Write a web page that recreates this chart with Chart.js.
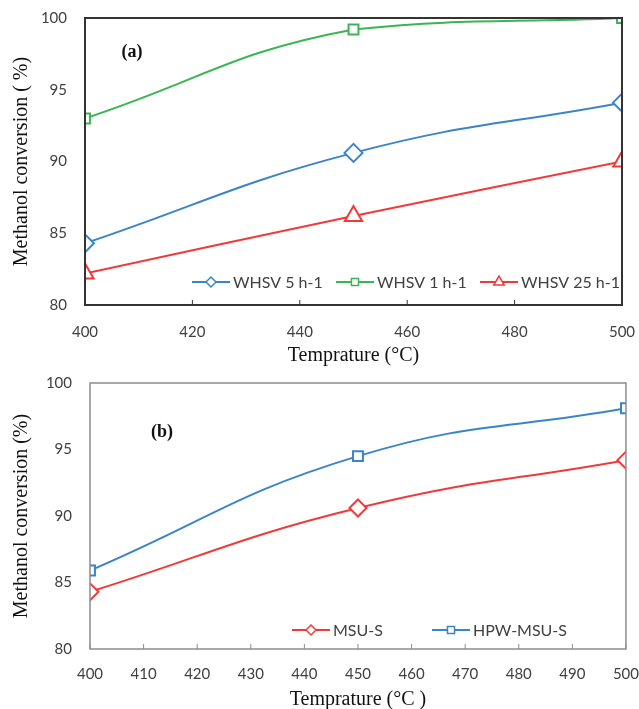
<!DOCTYPE html>
<html>
<head>
<meta charset="utf-8">
<script src="https://cdn.jsdelivr.net/npm/chart.js@4.4.1/dist/chart.umd.min.js"></script>
<style>
  html, body { margin: 0; padding: 0; background: #fff; }
  #wrap { position: relative; width: 639px; height: 709px; }
  #wrap canvas { position: absolute; left: 0; top: 0; }
</style>
</head>
<body>
<div id="wrap">
  <canvas id="panelA" width="639" height="709"></canvas>
  <canvas id="panelB" width="639" height="709"></canvas>
</div>
<script>
// Panel (a): methanol conversion at three space velocities
const temperaturesA = [400, 450, 500];
const whsv5 = [84.3, 90.6, 94.1];
const whsv1 = [93.0, 99.2, 100.0];
const whsv25 = [82.2, 86.2, 90.0];
const seriesNamesA = ['WHSV 5 h-1', 'WHSV 1 h-1', 'WHSV 25 h-1'];

// Panel (b): parent support vs. HPW-loaded catalyst
const temperaturesB = [400, 450, 500];
const msuS = [84.3, 90.6, 94.2];
const hpwMsuS = [85.9, 94.5, 98.1];
const seriesNamesB = ['MSU-S', 'HPW-MSU-S'];

const yTitleA = 'Methanol conversion ( %)';
const yTitleB = 'Methanol conversion (%)';
const xTitleA = 'Temprature (°C)';
const xTitleB = 'Temprature (°C )';

const BLUE = '#3a84c8';
const GREEN = '#3bb553';
const RED = '#f03a3a';
const TICK_FONT = { family: 'Lato', size: 15 };
const TITLE_FONT = { family: '"Liberation Serif", "Times New Roman", serif', size: 20, lineHeight: 1.2 };

// Box frame, inward x tick marks, panel tag and an in-plot legend
const framePlugin = {
  id: 'framePlugin',
  afterDatasetsDraw(chart, args, o) {
    const { ctx, chartArea: a } = chart;
    const xs = chart.scales.x;
    ctx.save();
    ctx.strokeStyle = o.frameColor;
    ctx.lineWidth = 1;
    xs.ticks.forEach(t => {
      const px = xs.getPixelForValue(t.value);
      ctx.beginPath();
      ctx.moveTo(px, a.bottom);
      ctx.lineTo(px, a.bottom - 5);
      ctx.stroke();
    });
    ctx.lineWidth = o.frameWidth;
    ctx.strokeRect(a.left, a.top, a.right - a.left, a.bottom - a.top);

    ctx.fillStyle = '#111';
    ctx.font = 'bold 18px "Liberation Serif", serif';
    ctx.textAlign = 'center';
    ctx.textBaseline = 'middle';
    ctx.fillText(o.tag, a.left + o.tagDx, a.top + o.tagDy);

    // legend entries
    const ly = a.bottom - o.legendDy;
    chart.data.datasets.forEach((ds, i) => {
      const x0 = a.left + o.legendDx + i * o.legendPitch;
      ctx.strokeStyle = ds.borderColor;
      ctx.lineWidth = 2;
      ctx.beginPath();
      ctx.moveTo(x0, ly);
      ctx.lineTo(x0 + 38, ly);
      ctx.stroke();
      ctx.fillStyle = '#fff';
      ctx.lineWidth = 1.5;
      Chart.helpers.drawPoint(ctx, {
        pointStyle: ds.pointStyle,
        radius: ds.legendRadius,
        borderWidth: 1.5,
        rotation: 0
      }, x0 + 19, ly);
      ctx.fillStyle = '#404040';
      ctx.font = '16px Lato';
      ctx.textAlign = 'left';
      ctx.textBaseline = 'middle';
      ctx.fillText(ds.label, x0 + 41, ly + 1);
    });
    ctx.restore();
  }
};

function lineSet(label, xsVals, ysVals, color, style, radius, legendRadius) {
  return {
    label,
    data: xsVals.map((x, i) => ({ x, y: ysVals[i] })),
    borderColor: color,
    backgroundColor: '#fff',
    borderWidth: 2,
    pointStyle: style,
    pointRadius: radius,
    pointHoverRadius: radius,
    pointBorderWidth: 2,
    pointBackgroundColor: '#fff',
    pointBorderColor: color,
    legendRadius,
    tension: 0.45
  };
}

// Tick labels are pushed away from the axis with invisible tick marks,
// so ticks.padding stays 0 and does not inflate the plot margins.
function hiddenTickGrid(len) {
  return { display: true, drawOnChartArea: false, drawTicks: true, tickLength: len, tickColor: 'rgba(0,0,0,0)', color: 'rgba(0,0,0,0)' };
}

function makeOptions(p) {
  return {
    responsive: false,
    animation: false,
    events: [],
    layout: { padding: { top: p.top, right: p.right, left: 0, bottom: p.bottom } },
    plugins: {
      legend: { display: false },
      tooltip: { enabled: false },
      framePlugin: p.frame
    },
    scales: {
      x: {
        type: 'linear',
        min: 400,
        max: 500,
        grid: hiddenTickGrid(p.xGap),
        border: { display: false },
        ticks: {
          stepSize: p.xStep,
          padding: 0,
          color: '#404040',
          font: TICK_FONT,
          maxRotation: 0,
          callback: v => String(v)
        },
        title: { display: true, text: p.xTitle, color: '#111', font: TITLE_FONT, padding: { top: 0, bottom: -3 } },
        afterFit: s => { s.height = p.xHeight; }
      },
      y: {
        min: 80,
        max: 100,
        grid: hiddenTickGrid(p.yGap),
        border: { display: false },
        ticks: { stepSize: 5, padding: 0, color: '#404040', font: TICK_FONT },
        title: { display: true, text: p.yTitle, color: '#111', font: TITLE_FONT, padding: { top: 10, bottom: 0 } },
        afterFit: s => { s.width = p.yWidth; }
      }
    }
  };
}

new Chart(document.getElementById('panelA'), {
  type: 'line',
  data: {
    datasets: [
      lineSet(seriesNamesA[0], temperaturesA, whsv5, BLUE, 'rectRot', 9, 5),
      lineSet(seriesNamesA[1], temperaturesA, whsv1, GREEN, 'rect', 7, 5),
      lineSet(seriesNamesA[2], temperaturesA, whsv25, RED, 'triangle', 10, 6)
    ]
  },
  options: makeOptions({
    top: 18, right: 17, bottom: 709 - 305 - 60,
    xHeight: 60, yWidth: 85, xStep: 20, xGap: 18, yGap: 18,
    xTitle: xTitleA, yTitle: yTitleA,
    frame: { frameColor: '#333', frameWidth: 2, tag: '(a)', tagDx: 47, tagDy: 34,
             legendDx: 107, legendPitch: 144, legendDy: 23 }
  }),
  plugins: [framePlugin]
});

new Chart(document.getElementById('panelB'), {
  type: 'line',
  data: {
    datasets: [
      lineSet(seriesNamesB[0], temperaturesB, msuS, RED, 'rectRot', 8.5, 5),
      lineSet(seriesNamesB[1], temperaturesB, hpwMsuS, BLUE, 'rect', 7, 5)
    ]
  },
  options: makeOptions({
    top: 383, right: 13, bottom: 0,
    xHeight: 60, yWidth: 90, xStep: 10, xGap: 16, yGap: 18,
    xTitle: xTitleB, yTitle: yTitleB,
    frame: { frameColor: '#8c8c8c', frameWidth: 1.5, tag: '(b)', tagDx: 72, tagDy: 49,
             legendDx: 202, legendPitch: 140, legendDy: 19 }
  }),
  plugins: [framePlugin]
});
</script>
</body>
</html>
